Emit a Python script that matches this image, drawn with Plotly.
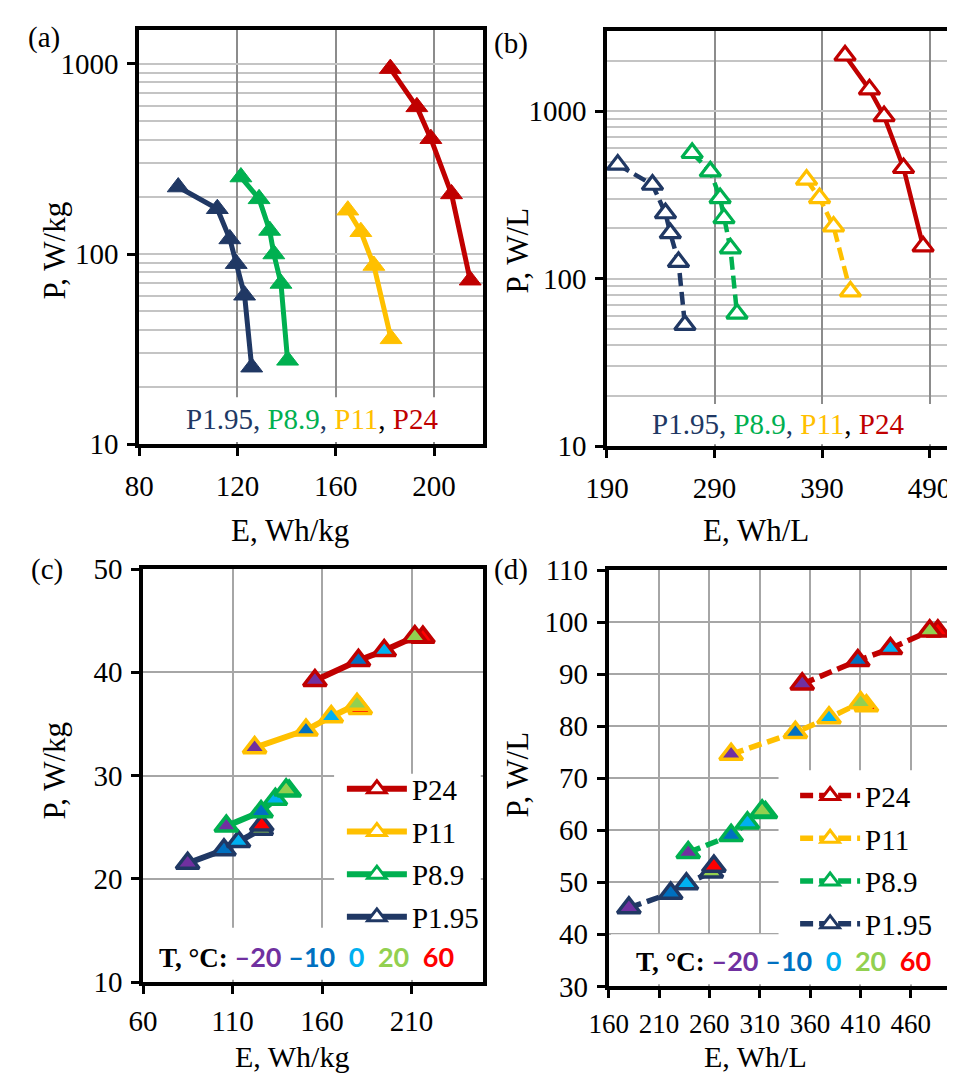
import plotly.graph_objects as go

# page geometry: the browser body keeps its default 8px margin
PAGE_W, PAGE_H = 955, 1087
OFF = 8
W, H = PAGE_W - OFF, PAGE_H - OFF
SERIF = "Liberation Serif"

SERIES = ["P1.95", "P8.9", "P11", "P24"]
SERIES_COLORS = ["#203864", "#00B050", "#FFC000", "#C00000"]

# ---------- (a) gravimetric Ragone, Wh/kg vs W/kg ----------
a_e_p195 = [95.9, 111.8, 116.9, 119.5, 122.9, 125.8]
a_p_p195 = [225, 173, 120, 89, 60.7, 25.4]
a_e_p89 = [121.4, 128.8, 133.1, 134.8, 137.7, 140.4]
a_p_p89 = [254, 195, 133, 100, 70, 27.6]
a_e_p11 = [164.9, 170.2, 175.5, 182.5]
a_p_p11 = [170, 131, 87, 35.8]
a_e_p24 = [182.2, 193.0, 198.7, 207.1, 214.7]
a_p_p24 = [944, 594, 404, 207, 72.8]

# ---------- (b) volumetric Ragone, Wh/L vs W/L ----------
b_e_p195 = [200, 232.3, 244.4, 248.9, 256.5, 262.5]
b_p_p195 = [480, 364, 246, 187, 126, 53]
b_e_p89 = [269.2, 286.1, 295.2, 298.8, 304.8, 310.9]
b_p_p89 = [563, 437, 303, 230, 152, 62]
b_e_p11 = [375.6, 387.7, 400.7, 416.4]
b_p_p11 = [390, 303, 205, 84]
b_e_p24 = [411.4, 434.1, 447.7, 465.8, 484.0]
b_p_p24 = [2150, 1350, 933, 458, 156]

# ---------- temperatures ----------
TEMPS = [-20, -10, 0, 20, 60]
TEMP_COLORS = ["#7030A0", "#0070C0", "#00B0F0", "#92D050", "#FF0000"]

# ---------- (c) E vs P (Wh/kg, W/kg) at each temperature ----------
c_e_p195 = [84.9, 105.2, 113.3, 126.0, 126.3]
c_p_p195 = [21.5, 22.8, 23.6, 24.8, 25.2]
c_e_p89 = [106.5, 125.9, 133.9, 139.9, 141.6]
c_p_p89 = [25.1, 26.5, 27.7, 28.6, 28.5]
c_e_p11 = [122.3, 151.0, 165.1, 179.5, 181.3]
c_p_p11 = [32.7, 34.4, 35.7, 36.9, 36.5]
c_e_p24 = [156.0, 180.3, 194.7, 211.8, 216.3]
c_p_p24 = [39.2, 41.15, 42.1, 43.45, 43.4]

# ---------- (d) E vs P (Wh/L, W/L) at each temperature ----------
d_e_p195 = [180.1, 221.6, 237.2, 262.0, 264.5]
d_p_p195 = [45.1, 47.9, 49.7, 52.0, 53.1]
d_e_p89 = [239.0, 281.6, 297.8, 312.4, 315.7]
d_p_p89 = [55.7, 59.0, 61.4, 63.7, 63.4]
d_e_p11 = [281.6, 345.4, 378.8, 410.2, 416.0]
d_p_p11 = [74.6, 78.8, 81.6, 84.5, 83.9]
d_e_p24 = [352.2, 407.4, 439.8, 478.8, 486.9]
d_p_p24 = [88.1, 92.6, 94.9, 98.3, 98.3]

# marker stacking order (index into TEMPS) per series
MARKER_ORDER = {"P1.95": [0, 1, 2, 3, 4], "P8.9": [0, 1, 2, 4, 3],
                "P11": [0, 1, 2, 4, 3], "P24": [0, 1, 2, 4, 3]}

A = {"P1.95": (a_e_p195, a_p_p195), "P8.9": (a_e_p89, a_p_p89),
     "P11": (a_e_p11, a_p_p11), "P24": (a_e_p24, a_p_p24)}
B = {"P1.95": (b_e_p195, b_p_p195), "P8.9": (b_e_p89, b_p_p89),
     "P11": (b_e_p11, b_p_p11), "P24": (b_e_p24, b_p_p24)}
C = {"P1.95": (c_e_p195, c_p_p195), "P8.9": (c_e_p89, c_p_p89),
     "P11": (c_e_p11, c_p_p11), "P24": (c_e_p24, c_p_p24)}
D = {"P1.95": (d_e_p195, d_p_p195), "P8.9": (d_e_p89, d_p_p89),
     "P11": (d_e_p11, d_p_p11), "P24": (d_e_p24, d_p_p24)}
B_DASH = {"P1.95": "13px,6px", "P8.9": "13px,6px", "P11": "13px,6px", "P24": "solid"}


def fx(x):
    """page pixel x -> paper fraction"""
    return (x - OFF) / W


def fy(y):
    """page pixel y -> paper fraction"""
    return 1 - (y - OFF) / H


fig = go.Figure()

# (a)
for name, col in zip(SERIES, SERIES_COLORS):
    e, p = A[name]
    fig.add_trace(go.Scatter(x=e, y=p, mode="lines+markers", xaxis="x", yaxis="y",
                             line=dict(color=col, width=5),
                             marker=dict(symbol="triangle-up", size=19, color=col,
                                         line=dict(color=col, width=1)),
                             showlegend=False))
# (b)
for name, col in zip(SERIES, SERIES_COLORS):
    e, p = B[name]
    fig.add_trace(go.Scatter(x=e, y=p, mode="lines+markers", xaxis="x2", yaxis="y2",
                             line=dict(color=col, width=4.5, dash=B_DASH[name]),
                             marker=dict(symbol="triangle-up", size=18, color="white",
                                         line=dict(color=col, width=3.2)),
                             showlegend=False))


def temp_panel(data, xa, ya, dash, lw):
    for name, col in zip(SERIES, SERIES_COLORS):
        e, p = data[name]
        fig.add_trace(go.Scatter(x=e, y=p, mode="lines", xaxis=xa, yaxis=ya,
                                 line=dict(color=col, width=lw, dash=dash),
                                 showlegend=False))
        order = MARKER_ORDER[name]
        fig.add_trace(go.Scatter(x=[e[i] for i in order], y=[p[i] for i in order],
                                 mode="markers", xaxis=xa, yaxis=ya,
                                 marker=dict(symbol="triangle-up", size=20,
                                             color=[TEMP_COLORS[i] for i in order],
                                             line=dict(color=col, width=3.5)),
                                 showlegend=False))


temp_panel(C, "x3", "y3", "solid", 6)
temp_panel(D, "x4", "y4", "13px,6px", 5.5)

# legend entries (c) and (d)
for legend_id, dash, lw in (("legend", "solid", 6), ("legend2", "13px,6px", 5.5)):
    for name, col in reversed(list(zip(SERIES, SERIES_COLORS))):
        fig.add_trace(go.Scatter(x=[None], y=[None], mode="lines+markers", name=name,
                                 xaxis="x3" if legend_id == "legend" else "x4",
                                 yaxis="y3" if legend_id == "legend" else "y4",
                                 legend=legend_id, legendgroup=legend_id + name,
                                 line=dict(color=col, width=lw, dash=dash),
                                 marker=dict(symbol="triangle-up", size=16, color="white",
                                             line=dict(color=col, width=3))))

TICKFONT = dict(family=SERIF, size=29, color="black")


def axis(domain, rng, anchor, gridcolor, dtick=None, tickvals=None, log=False, minor=False,
         fontsize=29):
    d = dict(domain=domain, range=rng, anchor=anchor, showline=True, mirror=True,
             linecolor="black", linewidth=3.5, ticks="outside", ticklen=8, tickwidth=3,
             tickcolor="black", tickfont=dict(TICKFONT, size=fontsize), showgrid=True,
             gridcolor=gridcolor, gridwidth=1.5, zeroline=False)
    if log:
        d["type"] = "log"
    if dtick is not None:
        d["dtick"] = dtick
        d["tick0"] = rng[0]
    if tickvals is not None:
        d["tickvals"] = tickvals
        d["ticktext"] = [str(v) for v in tickvals]
    if minor:
        d["minor"] = dict(dtick="D1", showgrid=True, gridcolor="#C4C4C4", gridwidth=1.5,
                          ticks="")
    return d


VGRID = "#8C8C8C"
HGRID = "#C4C4C4"
GRID = "#A6A6A6"

layout_axes = dict(
    xaxis=axis([fx(120), fx(473)], [80, 220], "y", VGRID, dtick=40),
    yaxis=axis([fy(441), fy(13.8)], [1, 3.18], "x", HGRID, tickvals=[10, 100, 1000],
               log=True, minor=True),
    xaxis2=axis([fx(600), fx(953)], [190, 510], "y2", VGRID, dtick=100),
    yaxis2=axis([fy(443.2), fy(15.5)], [1, 3.477], "x2", HGRID, tickvals=[10, 100, 1000],
                log=True, minor=True),
    xaxis3=axis([fx(124), fx(473)], [60, 250], "y3", GRID, dtick=50),
    yaxis3=axis([fy(995.3), fy(569.7)], [10, 50], "x3", GRID, dtick=10),
    xaxis4=axis([fx(601.7), fx(953)], [160, 500], "y4", GRID, dtick=50, fontsize=27),
    yaxis4=axis([fy(999.8), fy(570.7)], [30, 110], "x4", GRID, dtick=10),
)
for k in ("xaxis", "xaxis2"):
    layout_axes[k]["ticklabelstandoff"] = 5
for k in ("xaxis3", "xaxis4"):
    layout_axes[k]["ticklabelstandoff"] = 2
for k in ("yaxis", "yaxis2", "yaxis3", "yaxis4"):
    layout_axes[k]["ticklabelstandoff"] = 3

# white boxes that hide the grid behind the in-plot texts and legends
shapes = []


def white_box(x0, x1, y0, y1):
    shapes.append(dict(type="rect", xref="paper", yref="paper",
                       x0=fx(x0), x1=fx(x1), y0=fy(y1), y1=fy(y0),
                       fillcolor="white", line=dict(width=0), layer="above"))


white_box(122.5, 470.5, 392.6, 438.8)
white_box(602.5, 950.5, 399.5, 441)
white_box(320, 470.5, 780.7, 993)
white_box(126.5, 470.5, 939.4, 993)
white_box(776, 950.5, 777, 997.5)
white_box(604, 950.5, 946, 997.5)

annotations = []


def text(x, y, s, size=31, angle=0, xanchor="center", family=SERIF):
    annotations.append(dict(x=fx(x), y=fy(y), xref="paper", yref="paper", text=s,
                            showarrow=False, xanchor=xanchor, yanchor="middle",
                            textangle=angle, font=dict(family=family, size=size, color="black")))


for lbl, x, y in (("(a)", 22, 22), ("(b)", 502, 28), ("(c)", 25, 570), ("(d)", 502, 570)):
    text(x, y, lbl, size=29)

text(275, 530, "E, Wh/kg")
text(753, 530, "E, Wh/L")
text(277, 1072, "E, Wh/kg", size=30)
text(752, 1072, "E, Wh/L", size=30)
text(33, 241, "P, W/kg", angle=-90)
text(508, 241, "P, W/L", angle=-90)
text(33, 777, "P, W/kg", angle=-90)
text(508, 781, "P, W/L", angle=-90)

series_txt = ", ".join(f"<span style='color:{c}'>{n}</span>" for n, c in zip(SERIES, SERIES_COLORS))
series_txt = series_txt.replace(", ", "<span style='color:#203864'>, </span>", 2)
text(297, 415, series_txt, size=29)
text(775, 420, series_txt, size=29)

temp_parts = [f"<span style='color:{c};font-family:Lato'><b>{str(t).replace('-', '–')}</b></span>"
              for t, c in zip(TEMPS, TEMP_COLORS)]
temp_txt = ("<b>T, °C: </b>" + temp_parts[0] + " " + temp_parts[1] + "&nbsp; "
            + temp_parts[2] + "&nbsp; " + temp_parts[3] + "&nbsp; " + temp_parts[4])
text(292, 969, temp_txt, size=27)
text(781, 973, temp_txt, size=27)

legend_common = dict(bgcolor="rgba(0,0,0,0)", borderwidth=0, xanchor="left", yanchor="top",
                     font=dict(family=SERIF, size=29, color="black"), itemwidth=60,
                     tracegroupgap=2, itemclick=False, itemdoubleclick=False)

fig.update_layout(
    width=W, height=H, margin=dict(l=0, r=0, t=0, b=0),
    paper_bgcolor="white", plot_bgcolor="white",
    font=dict(family=SERIF, size=29, color="black"),
    shapes=shapes, annotations=annotations,
    legend=dict(x=fx(328), y=fy(770), **legend_common),
    legend2=dict(x=fx(793), y=fy(777), **legend_common),
    **layout_axes,
)

fig.write_html("out.html", config={"displayModeBar": False})
